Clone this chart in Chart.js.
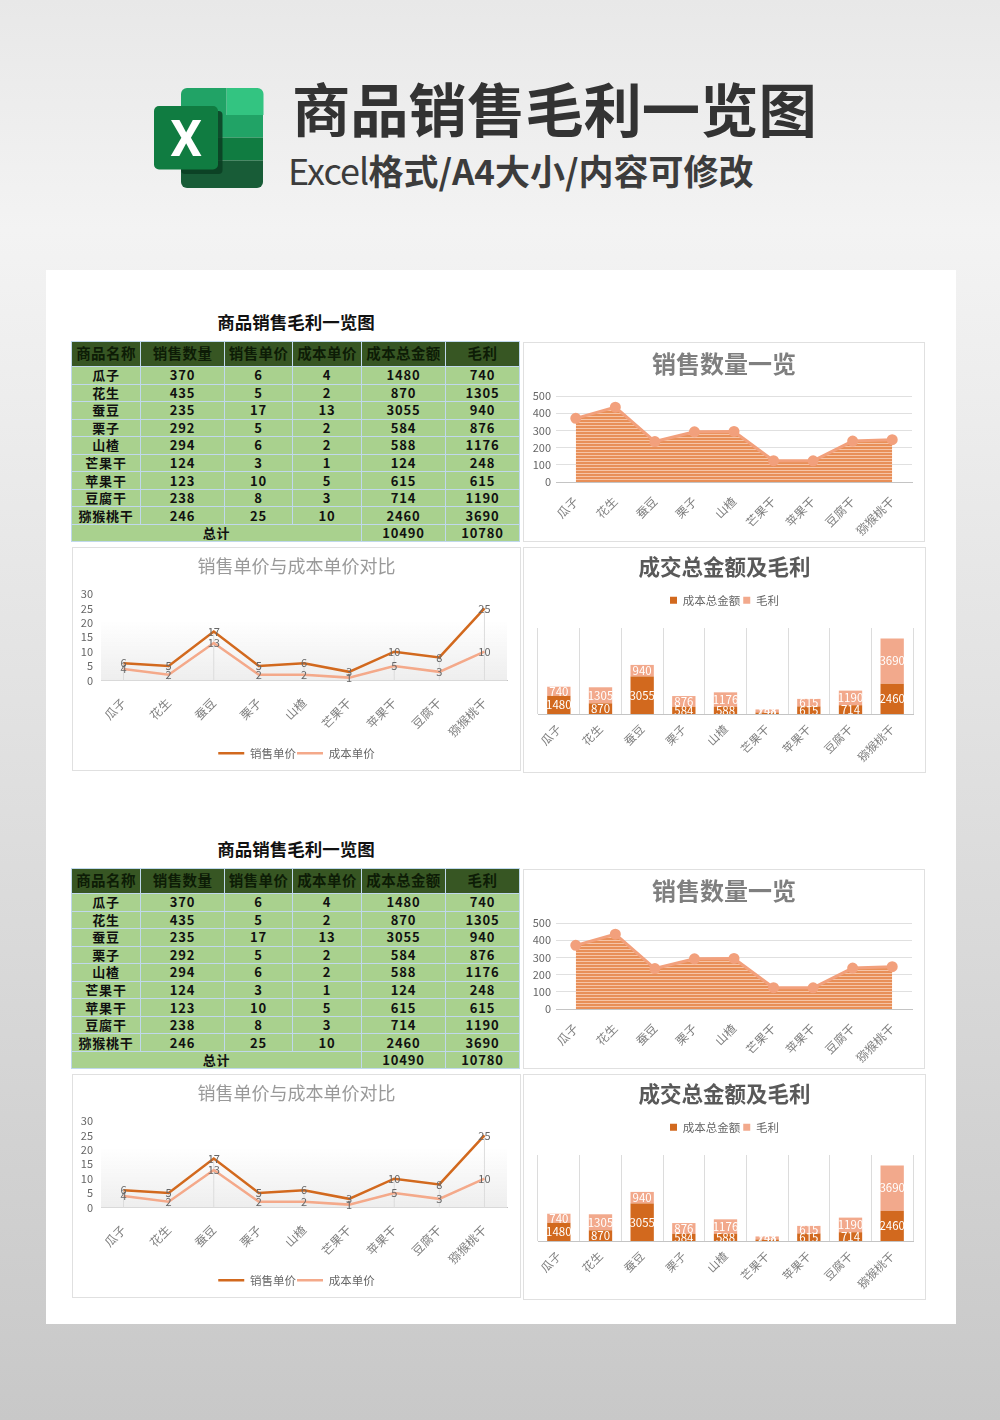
<!DOCTYPE html>
<html>
<head>
<meta charset="utf-8">
<script src="https://cdn.jsdelivr.net/npm/chart.js@4"></script>
<style>
  html, body { margin: 0; padding: 0; }
  body {
    width: 1000px; height: 1420px; position: relative; overflow: hidden;
    font-family: "Noto Sans CJK SC", sans-serif;
    background: linear-gradient(to bottom, #e8e8e8 0, #f3f3f3 230px, #c8c8c8 1420px);
  }
  .abs { position: absolute; }
  .head-title { left: 292px; top: 62px; font-size: 58.3px; line-height: 90px; font-weight: 700; color: #333; white-space: nowrap; }
  .head-sub { left: 288px; top: 143px; font-size: 35px; line-height: 52px; font-weight: 700; color: #3c3c3c; white-space: nowrap; }
  .head-sub span { font-size: 36px; font-weight: 400; letter-spacing: -0.9px; }
  .panel { left: 46px; top: 270px; width: 910px; height: 1054px; background: #fff; }
  .sheet-title { left: 146px; width: 300px; text-align: center; font-size: 17.5px; font-weight: 700; color: #111; line-height: 26px; }
  table { border-collapse: collapse; table-layout: fixed; left: 71px; width: 448px; }
  td {
    border: 1px solid #c0d8ec; background: #a9d18e; color: #111; text-align: center; padding: 0;
    height: 16.55px; line-height: 16px; font-size: 13px; font-weight: 700; letter-spacing: 0.8px; overflow: hidden; white-space: nowrap;
  }
  tr.hd td { background: #375623; color: #0d1c06; height: 25px; font-size: 14.5px; letter-spacing: 0.4px; padding-bottom: 2px; box-sizing: border-box; }
  .card { background: #fff; border: 1.5px solid #e0e0e0; box-sizing: border-box; }
  canvas { display: block; position: absolute; }
</style>
</head>
<body>
<svg class="abs" style="left:150px;top:84px" width="120" height="110" viewBox="150 84 120 110">
  <path d="M226.5 88h31a6 6 0 0 1 6 6v21h-37z" fill="#33c481"/>
  <path d="M181 115v-21a6 6 0 0 1 6-6h39.5v27z" fill="#21a366"/>
  <rect x="181" y="115" width="82" height="22.5" fill="#21a366"/>
  <rect x="181" y="137.5" width="82" height="23" fill="#107c41"/>
  <path d="M181 160.5h82v21.5a6 6 0 0 1-6 6h-70a6 6 0 0 1-6-6z" fill="#185c37"/>
  <rect x="181" y="111" width="41.5" height="63" rx="4" fill="#0b3d22" opacity="0.85"/>
  <rect x="154" y="106" width="64" height="63.5" rx="5" fill="#107c41"/>
  <text x="186" y="156" text-anchor="middle" font-family="Roboto, sans-serif" font-size="50" font-weight="700" fill="#fff">X</text>
</svg>
<div class="abs head-title">商品销售毛利一览图</div>
<div class="abs head-sub"><span>Excel</span>格式/A4大小/内容可修改</div>
<div class="abs panel"></div>

<script>
const categories = ["瓜子", "花生", "蚕豆", "栗子", "山楂", "芒果干", "苹果干", "豆腐干", "猕猴桃干"];
const quantity = [370, 435, 235, 292, 294, 124, 123, 238, 246];
const salePrice = [6, 5, 17, 5, 6, 3, 10, 8, 25];
const unitCost = [4, 2, 13, 2, 2, 1, 5, 3, 10];
const totalCost = [1480, 870, 3055, 584, 588, 124, 615, 714, 2460];
const profit = [740, 1305, 940, 876, 1176, 248, 615, 1190, 3690];
const sumCost = 10490;
const sumProfit = 10780;
const headers = ["商品名称", "销售数量", "销售单价", "成本单价", "成本总金额", "毛利"];
const colWidths = [69, 84, 68, 69, 84, 74];
const sheetTitle = "商品销售毛利一览图";
const blockOffsets = [0, 527];

const FONT = '"Noto Sans CJK SC", sans-serif';
const DARK = "#d2691e";
const LIGHT = "#f4a98a";

function stripes() {
  const c = document.createElement("canvas");
  c.width = 4;
  c.height = 3;
  const g = c.getContext("2d");
  g.fillStyle = "#e88f58";
  g.fillRect(0, 0, 4, 3);
  g.fillStyle = "#f6c4a6";
  g.fillRect(0, 2, 4, 1);
  return g.createPattern(c, "repeat");
}

// value text on top of the marks, lib has no labels of its own
function valueLabels(color, size, clip) {
  return {
    id: "valueLabels",
    afterDatasetsDraw(chart) {
      const ctx = chart.ctx;
      const area = chart.chartArea;
      ctx.save();
      if (clip) {
        ctx.beginPath();
        ctx.rect(area.left, area.top, area.right - area.left, area.bottom - area.top);
        ctx.clip();
      }
      ctx.fillStyle = color;
      ctx.font = size + "px " + FONT;
      ctx.textAlign = "center";
      ctx.textBaseline = "middle";
      chart.data.datasets.forEach((ds, i) => {
        chart.getDatasetMeta(i).data.forEach((el, j) => {
          const p = el.getCenterPoint ? el.getCenterPoint() : el;
          ctx.fillText(ds.data[j], p.x, p.y);
        });
      });
      ctx.restore();
    },
  };
}

// soft grey fade and drop lines behind the price chart
const priceBackdrop = {
  id: "priceBackdrop",
  beforeDatasetsDraw(chart) {
    const ctx = chart.ctx;
    const a = chart.chartArea;
    const grad = ctx.createLinearGradient(0, a.bottom - 60, 0, a.bottom);
    grad.addColorStop(0, "rgba(238,238,238,0)");
    grad.addColorStop(1, "rgba(238,238,238,1)");
    ctx.save();
    ctx.fillStyle = grad;
    ctx.fillRect(a.left, a.bottom - 60, a.right - a.left, 60);
    ctx.strokeStyle = "#dcdcdc";
    ctx.lineWidth = 1;
    chart.getDatasetMeta(0).data.forEach((pt) => {
      ctx.beginPath();
      ctx.moveTo(pt.x, pt.y);
      ctx.lineTo(pt.x, a.bottom);
      ctx.stroke();
    });
    ctx.restore();
  },
};

// extra room under the legend
const legendGap = {
  id: "legendGap",
  beforeInit(chart) {
    const fit = chart.legend.fit;
    chart.legend.fit = function () {
      fit.call(this);
      this.height += 12;
    };
  },
};

// the x scale padding pins the plot box inside the card
function xAxis(box, size, tickPad) {
  return {
    offset: true,
    grid: { display: false },
    border: { color: "#c4c4c4" },
    ticks: { color: "#808080", font: { size: size, family: FONT }, minRotation: 45, maxRotation: 45, autoSkip: false, padding: tickPad },
    afterFit(s) {
      s.height = box.height;
      s.paddingLeft = box.left;
      s.paddingRight = box.right;
      s.paddingTop = box.top;
    },
  };
}

function yAxis(width, max, step, showGrid, tickPad) {
  return {
    min: 0,
    max: max,
    grid: { display: showGrid, color: "#e0e0e0", drawTicks: false },
    border: { display: false },
    ticks: { stepSize: step, autoSkip: false, color: "#666", font: { size: 11, family: FONT }, padding: tickPad },
    afterFit(s) {
      s.width = width;
      s.paddingTop = 0;
      s.paddingBottom = 0;
    },
  };
}

function addCanvas(left, top, w, h) {
  const card = document.createElement("div");
  card.className = "abs card";
  card.style.cssText = `left:${left}px;top:${top}px;width:${w}px;height:${h}px`;
  const cv = document.createElement("canvas");
  cv.width = w;
  cv.height = h;
  cv.style.cssText = "left:-1.5px;top:-1.5px";
  card.appendChild(cv);
  document.body.appendChild(card);
  return cv;
}

function addTable(dy) {
  const title = document.createElement("div");
  title.className = "abs sheet-title";
  title.style.top = 309 + dy + "px";
  title.textContent = sheetTitle;
  document.body.appendChild(title);

  const t = document.createElement("table");
  t.className = "abs";
  t.style.top = 341 + dy + "px";
  let html = "<colgroup>" + colWidths.map((w) => `<col style="width:${w}px">`).join("") + "</colgroup>";
  html += '<tr class="hd">' + headers.map((h) => `<td>${h}</td>`).join("") + "</tr>";
  categories.forEach((c, i) => {
    html += `<tr><td>${c}</td><td>${quantity[i]}</td><td>${salePrice[i]}</td><td>${unitCost[i]}</td><td>${totalCost[i]}</td><td>${profit[i]}</td></tr>`;
  });
  html += `<tr><td colspan="4">总计</td><td>${sumCost}</td><td>${sumProfit}</td></tr>`;
  t.innerHTML = html;
  document.body.appendChild(t);
}

function quantityChart(dy) {
  new Chart(addCanvas(523, 342 + dy, 402, 200), {
    type: "line",
    data: {
      labels: categories,
      datasets: [
        {
          label: "销售数量",
          data: quantity,
          fill: "origin",
          backgroundColor: stripes(),
          borderColor: "#f2a07c",
          borderWidth: 3,
          pointRadius: 4,
          pointBackgroundColor: "#f2a07c",
          pointBorderColor: "#f2a07c",
          tension: 0,
        },
      ],
    },
    options: {
      responsive: false,
      animation: false,
      scales: { x: xAxis({ height: 60, left: 0, right: 13, top: 54 }, 12, 4), y: yAxis(33, 500, 100, true, 5) },
      plugins: {
        legend: { display: false },
        tooltip: { enabled: false },
        title: { display: true, text: "销售数量一览", color: "#7f7f7f", font: { size: 24, weight: "bold", family: FONT }, padding: { top: 2, bottom: 18 } },
      },
    },
  });
}

function priceChart(dy) {
  new Chart(addCanvas(72, 547 + dy, 449, 224), {
    type: "line",
    data: {
      labels: categories,
      datasets: [
        { label: "销售单价", data: salePrice, borderColor: DARK, backgroundColor: DARK, borderWidth: 2.5, pointRadius: 0, tension: 0 },
        { label: "成本单价", data: unitCost, borderColor: LIGHT, backgroundColor: LIGHT, borderWidth: 2.5, pointRadius: 0, tension: 0 },
      ],
    },
    options: {
      responsive: false,
      animation: false,
      layout: { padding: { bottom: 2 } },
      scales: { x: xAxis({ height: 66, left: 0, right: 14, top: 47 }, 12, 7), y: yAxis(29, 30, 5, false, 8) },
      plugins: {
        tooltip: { enabled: false },
        title: { display: true, text: "销售单价与成本单价对比", color: "#999", font: { size: 18, weight: "normal", family: FONT }, padding: { top: 2, bottom: 17 } },
        legend: { position: "bottom", labels: { usePointStyle: true, pointStyle: "line", pointStyleWidth: 26, color: "#666", font: { size: 11.5, family: FONT }, padding: 1 } },
      },
    },
    plugins: [priceBackdrop, valueLabels("#666", 11, false)],
  });
}

function amountChart(dy) {
  new Chart(addCanvas(523, 547 + dy, 403, 226), {
    type: "bar",
    data: {
      labels: categories,
      datasets: [
        { label: "成本总金额", data: totalCost, backgroundColor: DARK, barPercentage: 0.56, categoryPercentage: 1 },
        { label: "毛利", data: profit, backgroundColor: "#f2a98c", barPercentage: 0.56, categoryPercentage: 1 },
      ],
    },
    options: {
      responsive: false,
      animation: false,
      scales: {
        x: Object.assign(xAxis({ height: 59, left: 15, right: 13, top: 81 }, 11.5, 8), { stacked: true, grid: { display: true, color: "#dcdcdc", drawTicks: false } }),
        y: { stacked: true, display: false, min: 0, max: 7000 },
      },
      plugins: {
        tooltip: { enabled: false },
        title: { display: true, text: "成交总金额及毛利", color: "#595959", font: { size: 21.5, weight: "bold", family: FONT }, padding: { top: 2, bottom: 12 } },
        legend: { position: "top", labels: { boxWidth: 7, boxHeight: 7, color: "#666", font: { size: 11.5, family: FONT }, padding: 3 } },
      },
    },
    plugins: [legendGap, valueLabels("#fff", 11.5, true)],
  });
}

blockOffsets.forEach((dy) => {
  addTable(dy);
  quantityChart(dy);
  priceChart(dy);
  amountChart(dy);
});
</script>
</body>
</html>
